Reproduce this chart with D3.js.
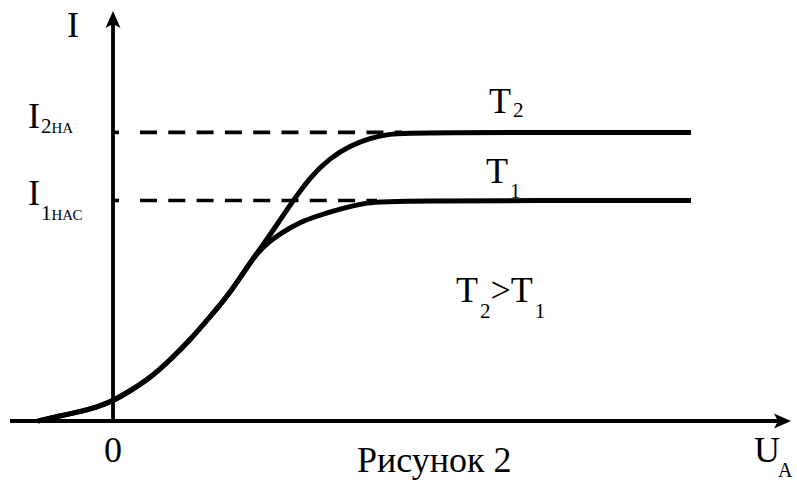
<!DOCTYPE html>
<html>
<head>
<meta charset="utf-8">
<script src="https://cdn.jsdelivr.net/npm/d3@7"></script>
</head>
<body style="margin:0">
<svg id="chart" width="797" height="482"></svg>
<script>
// Anode voltage (U) and current (I) for the rising part shared by both curves
const sharedU = [-1.5, -1.06, -0.66, -0.32, 0, 0.34, 0.74, 1.14, 1.54, 1.94, 2.34, 2.74, 2.84];
const sharedI = [0, 0.17, 0.31, 0.46, 0.67, 1.0, 1.43, 2.03, 2.7, 3.47, 4.27, 5.27, 5.5];

// Branch at the higher temperature T2
const t2U = [3.14, 3.54, 3.94, 4.34, 4.74, 5.14, 5.54, 5.94, 11.56];
const t2I = [6.2, 7.2, 8.13, 8.77, 9.17, 9.43, 9.57, 9.62, 9.62];

// Branch at the lower temperature T1
const t1U = [3.08, 3.4, 3.74, 4.08, 4.4, 4.74, 5.08, 5.44, 11.56];
const t1I = [5.93, 6.3, 6.63, 6.83, 7.0, 7.15, 7.27, 7.35, 7.35];

// Saturation currents and where each curve reaches them
const saturationI = [9.62, 7.35];
const saturationU = [5.94, 5.44];

// Label texts
const axisLabels = { y: "I", x: "U", xSub: "A", origin: "0" };
const satLabels = [
  { main: "I", num: "2", rest: "НА" },
  { main: "I", num: "1", rest: "НАС" }
];
const curveLabels = [
  { main: "T", sub: "2" },
  { main: "T", sub: "1" }
];
const caption = "Рисунок 2";

const FONT = "Liberation Serif";
const svg = d3.select("#chart");

const x = d3.scaleLinear().domain([0, 10]).range([113, 613]);
const y = d3.scaleLinear().domain([0, 10]).range([421, 121]);

const zip = (us, is) => us.map((u, k) => ({ u, i: is[k] }));
const shared = zip(sharedU, sharedI);
const curveT2 = shared.concat(zip(t2U, t2I));
const curveT1 = shared.concat(zip(t1U, t1I));

const line = d3.line()
  .x(d => x(d.u))
  .y(d => y(d.i))
  .curve(d3.curveBasis);

const addText = (px, py, size) =>
  svg.append("text").attr("x", px).attr("y", py)
    .attr("font-size", size)
    .style("font-family", `"${FONT}"`);

// Dashed guides from the current axis to each saturation level
saturationI.forEach((lvl, k) => {
  svg.append("line")
    .attr("x1", x(0) + 27).attr("x2", x(saturationU[k]) - 8)
    .attr("y1", y(lvl)).attr("y2", y(lvl))
    .attr("stroke", "#000").attr("stroke-width", 3.6)
    .attr("stroke-dasharray", "17 11.3");
  svg.append("line")
    .attr("x1", x(0)).attr("x2", x(0) + 6)
    .attr("y1", y(lvl)).attr("y2", y(lvl))
    .attr("stroke", "#000").attr("stroke-width", 3.6);
});

// Axes with arrow heads
const x0 = x(0), y0 = y(0);
svg.append("line")
  .attr("x1", x0).attr("x2", x0)
  .attr("y1", y0 + 1).attr("y2", 24)
  .attr("stroke", "#000").attr("stroke-width", 3.8);
svg.append("path")
  .attr("d", `M${x0},11 L${x0 + 7.5},28 L${x0},24 L${x0 - 7.5},28 Z`)
  .attr("fill", "#000");

svg.append("line")
  .attr("x1", 10).attr("x2", 780)
  .attr("y1", y0).attr("y2", y0)
  .attr("stroke", "#000").attr("stroke-width", 3.8);
svg.append("path")
  .attr("d", `M791,${y0} L774,${y0 - 7.5} L778,${y0} L774,${y0 + 7.5} Z`)
  .attr("fill", "#000");

// Characteristic curves
[curveT2, curveT1].forEach(c => {
  svg.append("path")
    .attr("d", line(c))
    .attr("fill", "none")
    .attr("stroke", "#000")
    .attr("stroke-width", 5)
    .attr("stroke-linejoin", "round");
});

// Axis labels
addText(67, 37, 36).text(axisLabels.y);
addText(x0, 462, 36).attr("text-anchor", "middle").text(axisLabels.origin);
const ua = addText(754, 462, 36);
ua.append("tspan").text(axisLabels.x);
ua.append("tspan").attr("font-size", 20).attr("dx", -2).attr("y", 477).text(axisLabels.xSub);

// Saturation current labels
const satOffsets = [{ base: -4, sub: 1 }, { base: 4, sub: 19 }];
satLabels.forEach((lab, k) => {
  const yl = y(saturationI[k]);
  const t = addText(28, yl + satOffsets[k].base, 36);
  t.append("tspan").text(lab.main);
  t.append("tspan").attr("font-size", 21).attr("dx", 1).attr("y", yl + satOffsets[k].sub).text(lab.num);
  t.append("tspan").attr("font-size", 15).text(lab.rest);
});

// Curve labels
const curvePos = [
  { x: 489, base: -19, sub: -15 },
  { x: 486, base: -18, sub: -3 }
];
curveLabels.forEach((lab, k) => {
  const yl = y(saturationI[k]);
  const t = addText(curvePos[k].x, yl + curvePos[k].base, 36);
  t.append("tspan").text(lab.main);
  t.append("tspan").attr("font-size", 21).attr("dx", 2).attr("y", yl + curvePos[k].sub).text(lab.sub);
});

// Temperature relation
const rel = addText(456, 302, 36);
rel.append("tspan").text("T");
rel.append("tspan").attr("font-size", 21).attr("dx", 2).attr("y", 318).text("2");
rel.append("tspan").attr("y", 302).text(">T");
rel.append("tspan").attr("font-size", 21).attr("dx", 2).attr("y", 318).text("1");

// Caption
addText(357, 472, 36).text(caption);
</script>
</body>
</html>
